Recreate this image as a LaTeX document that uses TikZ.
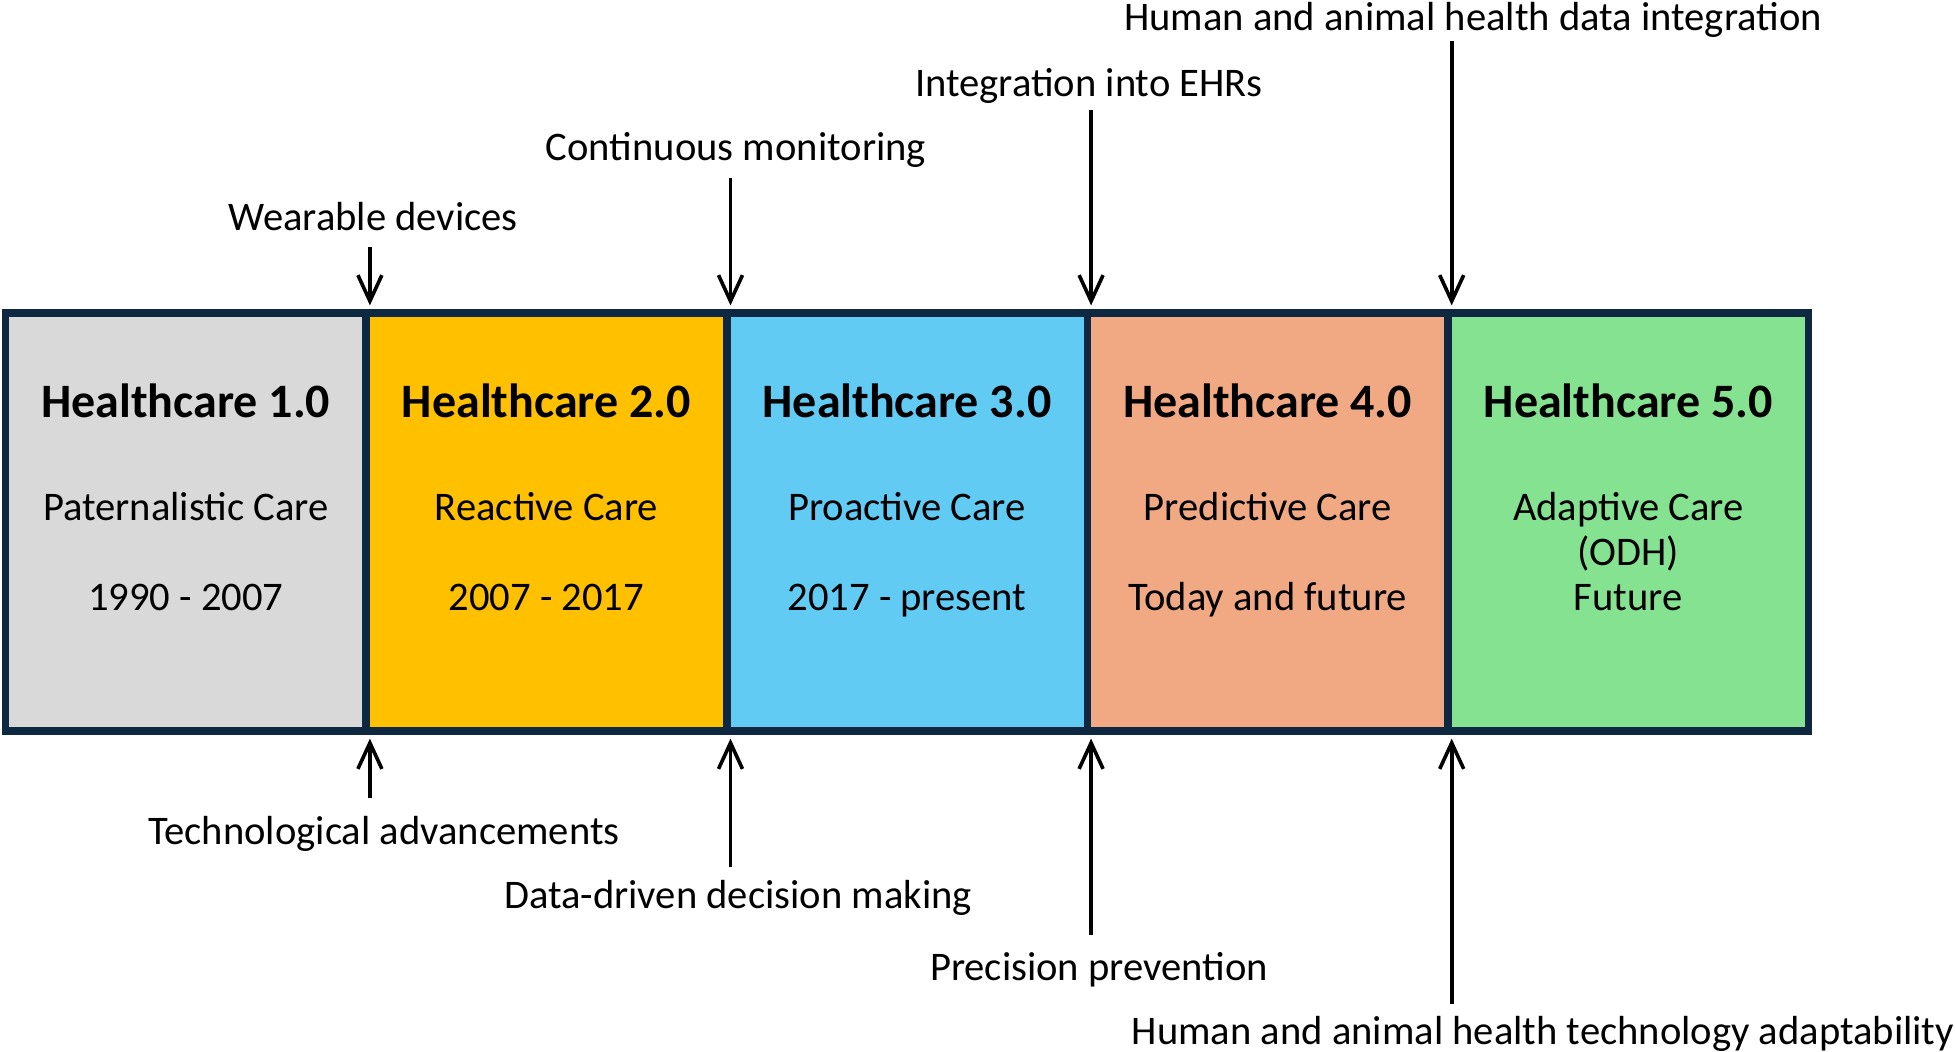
\documentclass[tikz,border=0pt]{standalone}
\usepackage{fontspec}
\setmainfont{Carlito}
\usetikzlibrary{arrows.meta}
\definecolor{edge}{HTML}{0E2841}
\definecolor{hcA}{HTML}{D9D9D9}
\definecolor{hcB}{HTML}{FFC000}
\definecolor{hcC}{HTML}{61CBF3}
\definecolor{hcD}{HTML}{F1A983}
\definecolor{hcE}{HTML}{84E291}
\tikzset{
  seg/.style={draw=edge, line width=3.8pt, minimum width=180.3pt, minimum height=209pt, inner sep=0pt},
  txt/.style={font=\fontsize{20.3}{24}\selectfont, text height=0.7em, text depth=0.2em, inner sep=0pt},
  ttl/.style={txt, font=\fontsize{24}{28}\selectfont\bfseries},
  arr/.style={->, line width=1.8pt, shorten >=1.9pt}
}
\begin{document}
\begin{tikzpicture}[x=0.5pt, y=-0.5pt, >={Straight Barb[length=13pt,width=12pt,line width=1.8pt]}]
\useasboundingbox (0,0) rectangle (1955,1051);

\foreach \i/\x/\c/\t/\s/\d in {1/185.8/hcA/1.0/Paternalistic Care/1990 - 2007,
  2/546.4/hcB/2.0/Reactive Care/2007 - 2017,
  3/907/hcC/3.0/Proactive Care/2017 - present,
  4/1267.6/hcD/4.0/Predictive Care/Today and future,
  5/1628.2/hcE/5.0/Adaptive Care/Future}
{
  \node[seg, fill=\c] (seg\i) at (\x,522) {};
  \node[ttl] (ttl\i) at (\x,412) {Healthcare \t};
  \node[txt] (sub\i) at (\x,515) {\s};
  \node[txt] (date\i) at (\x,605) {\d};
}
\node[txt] (odh) at (1628.2,560) {(ODH)};

% milestones above
\foreach \i/\lx/\ly/\ay/\l in {1/373/225/247/Wearable devices,
  2/736/155/178/Continuous monitoring,
  3/1089/91/110/Integration into EHRs,
  4/1473/25/41/Human and animal health data integration}
{
  \node[txt] (top\i) at (\lx,\ly) {\l};
  \coordinate (ta\i) at (seg\i.north east |- 0,\ay);
  \draw[arr] (ta\i) -- (seg\i.north east);
}

% milestones below
\foreach \i/\lx/\ly/\ay/\l in {1/384/839/798/Technological advancements,
  2/738/903/867/Data-driven decision making,
  3/1099/975/935/Precision prevention,
  4/1543/1039/1004/Human and animal health technology adaptability}
{
  \node[txt] (bot\i) at (\lx,\ly) {\l};
  \coordinate (ba\i) at (seg\i.south east |- 0,\ay);
  \draw[arr] (ba\i) -- (seg\i.south east);
}
\end{tikzpicture}
\end{document}
